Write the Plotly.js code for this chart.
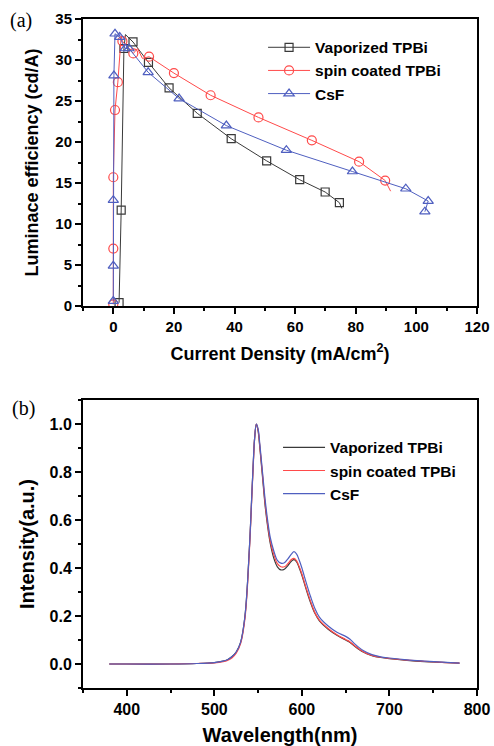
<!DOCTYPE html>
<html><head><meta charset="utf-8">
<script src="https://cdn.plot.ly/plotly-3.0.1.min.js"></script>
<style>html,body{margin:0;padding:0;background:#fff}#chart{width:494px;height:746px}</style>
</head><body><div id="chart"></div>
<script>
// Panel (a): Luminance efficiency vs current density
const vapJ   = [1.9, 2.6, 3.5, 4.0, 6.5, 11.6, 18.4, 27.7, 38.9, 50.6, 61.5, 69.9, 74.6, 75.4];
const vapEff = [0.4, 11.7, 31.4, 33.1, 32.2, 29.7, 26.6, 23.5, 20.4, 17.7, 15.4, 13.9, 12.6, 11.9];
const vapMarked = [0, 1, 2, 4, 5, 6, 7, 8, 9, 10, 11, 12];
const spinJ   = [0.0, 0.0, 0.0, 0.56, 1.5, 2.6, 3.0, 6.6, 8.0, 9.6, 11.8, 20.0, 32.1, 47.9, 65.5, 81.1, 89.7, 91.5];
const spinEff = [0.2, 7.0, 15.7, 23.9, 27.3, 32.9, 32.3, 30.8, 31.4, 30.2, 30.4, 28.4, 25.7, 23.0, 20.2, 17.6, 15.3, 14.0];
const spinMarked = [0, 1, 2, 3, 4, 6, 7, 10, 11, 12, 13, 14, 15, 16];
const csfJ   = [0.0, 0.0, 0.0, 0.2, 0.56, 2.1, 3.9, 5.2, 11.5, 21.7, 37.3, 57.1, 78.9, 96.5, 103.9, 102.8];
const csfEff = [0.6, 4.9, 12.9, 28.1, 33.2, 32.8, 31.4, 31.4, 28.5, 25.3, 22.0, 19.0, 16.4, 14.3, 12.8, 11.5];

// Panel (b): normalized EL spectra
const wavelength = [380, 400, 450, 480, 500, 510, 515, 520, 525, 530, 535, 540, 543, 545, 546, 548, 550, 552, 555, 558, 561, 564, 568, 572, 576, 580, 584, 588, 591, 594, 597, 600, 605, 610, 615, 620, 630, 640, 650, 655, 660, 670, 680, 690, 700, 720, 740, 760, 780];
const vapSpec  = [0, 0, 0, 0.002, 0.006, 0.012, 0.018, 0.03, 0.05, 0.09, 0.2, 0.48, 0.72, 0.88, 0.94, 1.0, 0.97, 0.9, 0.78, 0.66, 0.57, 0.5, 0.44, 0.405, 0.392, 0.395, 0.41, 0.428, 0.435, 0.425, 0.4, 0.37, 0.31, 0.255, 0.21, 0.18, 0.145, 0.12, 0.1, 0.09, 0.075, 0.05, 0.035, 0.027, 0.022, 0.015, 0.01, 0.007, 0.004];
const spinSpec = [0, 0, 0, 0.002, 0.005, 0.01, 0.015, 0.025, 0.045, 0.085, 0.19, 0.47, 0.71, 0.87, 0.94, 1.0, 0.975, 0.905, 0.79, 0.67, 0.58, 0.51, 0.455, 0.418, 0.405, 0.405, 0.418, 0.435, 0.44, 0.43, 0.405, 0.375, 0.315, 0.26, 0.213, 0.183, 0.148, 0.122, 0.102, 0.092, 0.077, 0.051, 0.036, 0.028, 0.023, 0.016, 0.011, 0.007, 0.004];
const csfSpec  = [0, 0, 0, 0.002, 0.006, 0.012, 0.018, 0.03, 0.05, 0.09, 0.2, 0.48, 0.72, 0.88, 0.94, 1.0, 0.98, 0.915, 0.8, 0.685, 0.595, 0.525, 0.47, 0.432, 0.42, 0.422, 0.438, 0.458, 0.468, 0.458, 0.432, 0.4, 0.338, 0.28, 0.23, 0.195, 0.158, 0.132, 0.115, 0.103, 0.085, 0.056, 0.039, 0.03, 0.025, 0.017, 0.012, 0.008, 0.004];

const names = ['Vaporized TPBi', 'spin coated TPBi', 'CsF'];
const cBlack = '#3a3a3a', cRed = '#ff4a4a', cBlue = '#4f5fc0';
const FONT = 'Liberation Sans, Arial, sans-serif';
const hideUnmarked = {marker: {opacity: 0}};

const traces = [
  {x: vapJ, y: vapEff, name: names[0], mode: 'lines+markers', xaxis: 'x', yaxis: 'y', legend: 'legend',
   selectedpoints: vapMarked, unselected: hideUnmarked, selected: {marker: {opacity: 1}},
   line: {color: cBlack, width: 1}, marker: {symbol: 'square-open', size: 8, color: cBlack, line: {width: 1.2}}},
  {x: spinJ, y: spinEff, name: names[1], mode: 'lines+markers', xaxis: 'x', yaxis: 'y', legend: 'legend',
   selectedpoints: spinMarked, unselected: hideUnmarked, selected: {marker: {opacity: 1}},
   line: {color: cRed, width: 1}, marker: {symbol: 'circle-open', size: 9, color: cRed, line: {width: 1.2}}},
  {x: csfJ, y: csfEff, name: names[2], mode: 'lines+markers', xaxis: 'x', yaxis: 'y', legend: 'legend',
   line: {color: cBlue, width: 1}, marker: {symbol: 'triangle-up-open', size: 9, color: cBlue, line: {width: 1.2}}},
  {x: wavelength, y: vapSpec, name: names[0], mode: 'lines', xaxis: 'x2', yaxis: 'y2', legend: 'legend2',
   line: {color: cBlack, width: 1.2, shape: 'spline'}},
  {x: wavelength, y: spinSpec, name: names[1], mode: 'lines', xaxis: 'x2', yaxis: 'y2', legend: 'legend2',
   line: {color: cRed, width: 1.2, shape: 'spline'}},
  {x: wavelength, y: csfSpec, name: names[2], mode: 'lines', xaxis: 'x2', yaxis: 'y2', legend: 'legend2',
   line: {color: cBlue, width: 1.2, shape: 'spline'}}
];

const tickFontA = {family: FONT, size: 15, color: '#000', weight: 'bold'};
const tickFontB = {family: FONT, size: 16, color: '#000', weight: 'bold'};
const titleFontA = {family: FONT, size: 18, color: '#000', weight: 'bold'};
const titleFontB = {family: FONT, size: 20, color: '#000', weight: 'bold'};
function axis(extra) {
  return Object.assign({
    showline: true, linewidth: 2, linecolor: '#000', mirror: true,
    ticks: 'outside', ticklen: 6, tickwidth: 2, tickcolor: '#000',
    showgrid: false, zeroline: false, automargin: false
  }, extra);
}

const layout = {
  width: 494, height: 746,
  margin: {l: 83, r: 17, t: 19, b: 58},
  paper_bgcolor: '#fff', plot_bgcolor: '#fff',
  font: {family: FONT},
  xaxis: axis({domain: [0, 1], anchor: 'y', range: [-10, 120], tick0: 0, dtick: 20, tickfont: tickFontA,
    minor: {ticks: 'outside', dtick: 10, ticklen: 3, tickwidth: 2, tickcolor: '#000'},
    title: {text: 'Current Density (mA/cm<sup>2</sup>)', font: titleFontA, standoff: 13}}),
  yaxis: axis({domain: [0.571, 1], anchor: 'x', range: [0, 35], tick0: 0, dtick: 5, tickfont: tickFontA,
    minor: {ticks: 'outside', dtick: 2.5, ticklen: 3, tickwidth: 2, tickcolor: '#000'},
    title: {text: 'Luminace efficiency (cd/A)', font: titleFontA, standoff: 12}}),
  xaxis2: axis({domain: [0, 1], anchor: 'y2', range: [350, 800], tick0: 0, dtick: 100, tickfont: tickFontB,
    minor: {ticks: 'outside', dtick: 50, ticklen: 3, tickwidth: 2, tickcolor: '#000'},
    title: {text: 'Wavelength(nm)', font: titleFontB, standoff: 11}}),
  yaxis2: axis({domain: [0, 0.4305], anchor: 'x2', range: [-0.1, 1.1], tick0: 0, dtick: 0.2, tickformat: '.1f', tickfont: tickFontB,
    minor: {ticks: 'outside', dtick: 0.1, ticklen: 3, tickwidth: 2, tickcolor: '#000'},
    title: {text: 'Intensity(a.u.)', font: titleFontB, standoff: 10}}),
  legend: {x: 0.457, y: 0.9825, xanchor: 'left', yanchor: 'top', bgcolor: 'rgba(0,0,0,0)',
    itemwidth: 42, font: {family: FONT, size: 15.5, color: '#000', weight: 'bold'}},
  legend2: {x: 0.495, y: 0.3845, xanchor: 'left', yanchor: 'top', bgcolor: 'rgba(0,0,0,0)',
    itemwidth: 42, font: {family: FONT, size: 15.5, color: '#000', weight: 'bold'}},
  showlegend: true,
  annotations: [
    {text: '(a)', xref: 'paper', yref: 'paper', x: -0.19, y: 0.998, xanchor: 'left', yanchor: 'middle',
     showarrow: false, font: {family: 'Liberation Serif, Times New Roman, serif', size: 20, color: '#000'}},
    {text: '(b)', xref: 'paper', yref: 'paper', x: -0.185, y: 0.4185, xanchor: 'left', yanchor: 'middle',
     showarrow: false, font: {family: 'Liberation Serif, Times New Roman, serif', size: 20, color: '#000'}}
  ]
};

Plotly.newPlot('chart', traces, layout, {staticPlot: true, displayModeBar: false});
</script></body></html>
